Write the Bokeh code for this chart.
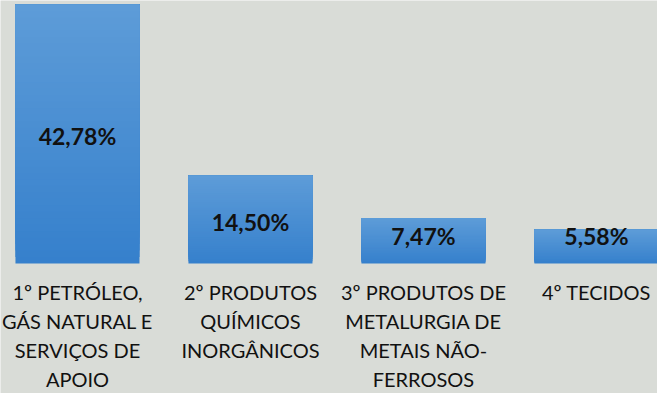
import numpy as np
from bokeh.plotting import figure
from bokeh.models import ColumnDataSource, Range1d
from bokeh.core.properties import value
from bokeh.embed import file_html
from bokeh.resources import INLINE

categories = [
    "1º PETRÓLEO,\nGÁS NATURAL E\nSERVIÇOS DE\nAPOIO",
    "2º PRODUTOS\nQUÍMICOS\nINORGÂNICOS",
    "3º PRODUTOS DE\nMETALURGIA DE\nMETAIS NÃO-\nFERROSOS",
    "4º TECIDOS",
]
values = [42.78, 14.50, 7.47, 5.58]
value_labels = ["42,78%", "14,50%", "7,47%", "5,58%"]

BG = "#d9dcd7"
TOP = np.array([0x5d, 0x9c, 0xd8])
BOT = np.array([0x36, 0x80, 0xcc])

p = figure(width=657, height=393, output_backend="svg", toolbar_location=None,
           x_range=Range1d(-0.445, 3.353), y_range=Range1d(-21.49, 43.47),
           min_border=0, background_fill_color=BG, border_fill_color=BG,
           outline_line_color=None)
p.axis.visible = False
p.grid.visible = False

# gradient bars: overlapping slices, each reaching the bar's top
N = 40
xs, bots, tops, cols = [], [], [], []
for k in range(N):
    f = (k + 0.5) / N
    c = BOT + (TOP - BOT) * f
    col = "#%02x%02x%02x" % tuple(int(round(t)) for t in c)
    for i, v in enumerate(values):
        xs.append(i)
        bots.append(v * k / N)
        tops.append(v)
        cols.append(col)
src = ColumnDataSource(dict(x=xs, bottom=bots, top=tops, color=cols))
p.vbar(x="x", bottom="bottom", top="top", width=0.717, fill_color="color",
       line_color=None, source=src)

xi = list(range(len(values)))
vals = np.array(values)
lab_y = np.maximum(vals / 2, 4.8)
p.text(x=xi, y=lab_y, text=value_labels, text_align="center",
       text_baseline="middle", text_font=value("Lato"), text_font_style="bold",
       text_font_size="23px", text_color="#111111", y_offset=2)

p.text(x=xi, y=[0] * len(xi), text=categories, text_align="center",
       text_baseline="top", text_font=value("Lato"), text_font_size="20px",
       text_color="#111111", text_line_height=1.2, y_offset=17)

open("out.html", "w").write(file_html(p, INLINE))
